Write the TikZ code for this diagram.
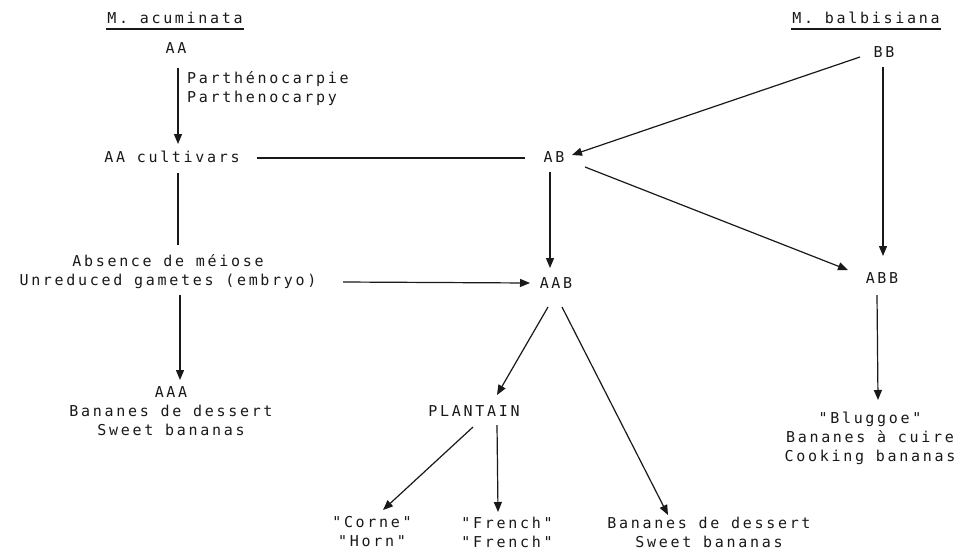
\documentclass[tikz,border=0pt]{standalone}
\usepackage{fontspec}
\setmonofont[LetterSpace=18]{DejaVu Sans Mono}
\usetikzlibrary{arrows.meta,calc}
\begin{document}
\begin{tikzpicture}[x=1pt,y=-1pt,
  lbl/.style={font=\ttfamily\fontsize{15}{19}\selectfont, inner sep=1pt, align=center, text=black!90},
  arr/.style={-{Triangle[length=10pt,width=8pt]}, line width=1.2pt, draw=black!90},
  ln/.style={line width=1.2pt, draw=black!90},
]
\fill[white] (0,0) rectangle (973,552);
\useasboundingbox (0,0) rectangle (973,552);

% titles
\node[lbl] (acum) at (175,18) {M. acuminata};
\draw[ln] ($(acum.south west)+(0,4)$) -- ($(acum.south east)+(0,4)$);
\node[lbl] (bal) at (866,18) {M. balbisiana};
\draw[ln] ($(bal.south west)+(0,4)$) -- ($(bal.south east)+(0,4)$);

% nodes
\node[lbl] (AA) at (176,48) {AA};
\node[lbl, anchor=west, align=left] (parth) at (186,89) {Parthénocarpie\\Parthenocarpy};
\node[lbl] (AAcult) at (172,157) {AA cultivars};
\node[lbl] (AB) at (554,157) {AB};
\node[lbl] (BB) at (884,52) {BB};
\node[lbl] (meio) at (168,272) {Absence de méiose\\Unreduced gametes (embryo)};
\node[lbl] (AAB) at (556,283) {AAB};
\node[lbl] (ABB) at (882,278) {ABB};
\node[lbl] (AAA) at (171,411) {AAA\\Bananes de dessert\\Sweet bananas};
\node[lbl] (plant) at (474,411) {PLANTAIN};
\node[lbl] (corne) at (372,532) {"Corne"\\"Horn"};
\node[lbl] (french) at (507,532) {"French"\\"French"};
\node[lbl] (sweet) at (709,532) {Bananes de dessert\\Sweet bananas};
\node[lbl] (blug) at (870,438) {"Bluggoe"\\Bananes à cuire\\Cooking bananas};

% connectors
\draw[arr] ($(AA)+(2,20)$) -- ($(AAcult)+(6,-13)$);
\draw[ln] ($(AAcult)+(85,1)$) -- ($(AB)+(-29,1)$);
\draw[arr] ($(BB)+(-24,5)$) -- ($(AB)+(18,-2)$);
\draw[arr] ($(AB)+(-4,15)$) -- ($(AAB)+(-6,-15)$);
\draw[arr] ($(AB)+(31,10)$) -- ($(ABB)+(-34,-8)$);
\draw[arr] ($(BB)+(-1,15)$) -- ($(ABB)+(1,-22)$);
\draw[ln] ($(AAcult)+(6,16)$) -- ($(meio)+(10,-27)$);
\draw[arr] ($(meio)+(175,10)$) -- ($(AAB)+(-26,0)$);
\draw[arr] ($(meio)+(12,23)$) -- ($(AAA)+(9,-31)$);
\draw[arr] ($(AAB)+(-8,24)$) -- ($(plant)+(23,-16)$);
\draw[arr] ($(AAB)+(6,24)$) -- ($(sweet)+(-41,-17)$);
\draw[arr] ($(ABB)+(-5,17)$) -- ($(blug)+(8,-38)$);
\draw[arr] ($(plant)+(-1,16)$) -- ($(corne)+(11,-22)$);
\draw[arr] ($(plant)+(23,14)$) -- ($(french)+(-9,-20)$);
\end{tikzpicture}
\end{document}
